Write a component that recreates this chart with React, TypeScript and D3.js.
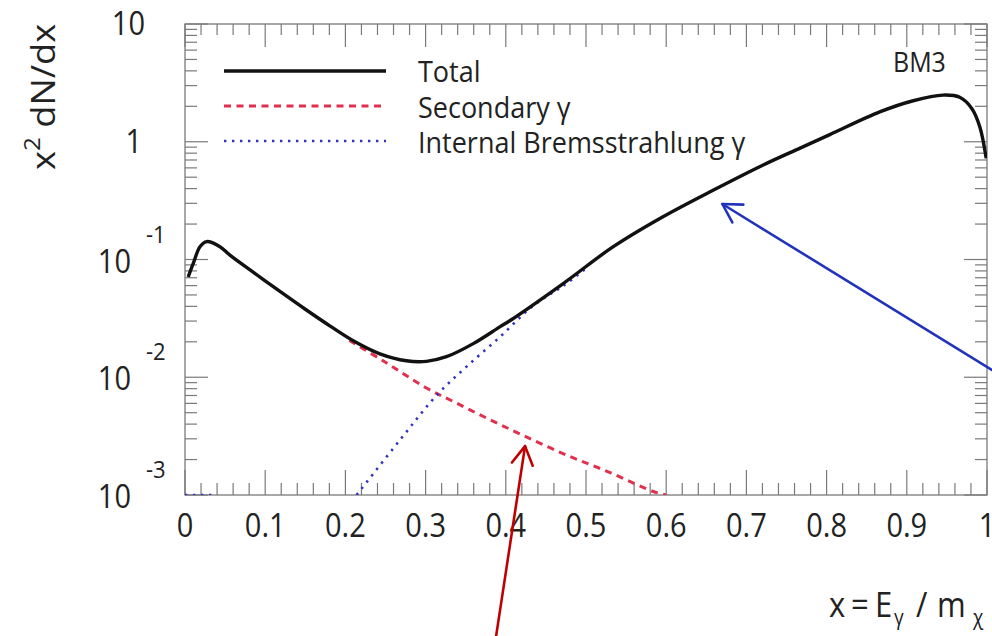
import React from "react";
import * as d3 from "d3";

// Photon spectrum x^2 dN/dx for benchmark model BM3
const totalX = [0.004, 0.0104, 0.0187, 0.027, 0.0436, 0.056, 0.087, 0.118, 0.15, 0.181, 0.212, 0.243, 0.276, 0.301, 0.326, 0.36, 0.393, 0.405, 0.472, 0.534, 0.596, 0.659, 0.721, 0.767, 0.804, 0.867, 0.908, 0.945, 0.966, 0.981, 0.991, 0.999];
const totalY = [0.071, 0.093, 0.1285, 0.142, 0.1285, 0.109, 0.0764, 0.0538, 0.0378, 0.0272, 0.0200, 0.0158, 0.0138, 0.01365, 0.01494, 0.0194, 0.0269, 0.0302, 0.0628, 0.1285, 0.2308, 0.389, 0.635, 0.883, 1.15, 1.8, 2.23, 2.49, 2.385, 1.92, 1.343, 0.723];

const secondaryX = [0.205, 0.247, 0.301, 0.335, 0.376, 0.422, 0.476, 0.53, 0.584, 0.6];
const secondaryY = [0.0205, 0.0138, 0.0081, 0.0062, 0.0045, 0.0032, 0.00218, 0.00155, 0.00107, 0.00095];

// Internal bremsstrahlung: below the axis minimum at low x, then a gap (null)
const ibX = [0, 0.04, 0.1, 0.214, 0.268, 0.314, 0.351, 0.393, 0.434, 0.472, 0.5];
const ibY: (number | null)[] = [0.0008, 0.0008, null, 0.00095, 0.00293, 0.00706, 0.0123, 0.0221, 0.0405, 0.06, 0.084];

const xTickValues = [0, 0.1, 0.2, 0.3, 0.4, 0.5, 0.6, 0.7, 0.8, 0.9, 1];
const xTickLabels = ["0", "0.1", "0.2", "0.3", "0.4", "0.5", "0.6", "0.7", "0.8", "0.9", "1"];
const yDecades = [1, 0, -1, -2, -3];

const legendLabels = ["Total", "Secondary \u03b3", "Internal Bremsstrahlung \u03b3"];

// Annotation arrows, tail and tip in data coordinates
const arrowTails = [[1.006, 0.01153], [0.388, 6.4e-5]];
const arrowTips = [[0.67, 0.296], [0.424, 0.0026]];
const arrowColors = ["#2233bb", "#c00000"];

const W = 992;
const H = 636;
const FONT = "'Open Sans', 'Noto Sans', sans-serif";
const AXIS = "#7a7a7a";

export default function App() {
  const x = d3.scaleLinear().domain([0, 1]).range([185, 987]);
  const y = d3.scaleLog().domain([1e-3, 10]).range([495, 24]);
  const [x0, x1] = x.range();
  const [yb, yt] = y.range();
  const yMin = 1e-3;

  const line = d3
    .line<[number, number | null]>()
    .defined((d) => d[1] !== null)
    .x((d) => x(d[0]))
    .y((d) => y(Math.max(d[1] as number, yMin)))
    .curve(d3.curveCatmullRom.alpha(0.5));

  const totalPath = line(totalX.map((v, i) => [v, totalY[i]]));
  const secPath = line(secondaryX.map((v, i) => [v, secondaryY[i]]));
  const ibPath = line(ibX.map((v, i) => [v, ibY[i]]));

  const xMinor = d3.range(0, 51).map((i) => i * 0.02).filter((v, i) => i % 5 !== 0);
  const yMinor: number[] = [];
  for (let dd = -3; dd <= 0; dd++) for (let k = 2; k <= 9; k++) yMinor.push(k * Math.pow(10, dd));

  const majLenX = 25, minLenX = 12, majLenY = 23, minLenY = 12;

  const stretch = "scale(1,1.1)";

  const arrows = arrowTails.map((t, i) => {
    const tp = arrowTips[i];
    const ax = x(t[0]), ay = y(t[1]);
    const bx = x(tp[0]), by = y(tp[1]);
    const ang = Math.atan2(by - ay, bx - ax);
    const L = 21, spread = (30 * Math.PI) / 180;
    const p1 = [bx - L * Math.cos(ang - spread), by - L * Math.sin(ang - spread)];
    const p2 = [bx - L * Math.cos(ang + spread), by - L * Math.sin(ang + spread)];
    return { ax, ay, bx, by, p1, p2, color: arrowColors[i] };
  });

  return (
    <svg
      width={W}
      height={H}
      viewBox={`0 0 ${W} ${H}`}
      style={{ position: "absolute", left: 0, top: 0, background: "#fff" }}
      fontFamily={FONT}
    >
      <defs>
        <clipPath id="plotArea">
          <rect x={x0} y={yt - 2} width={x1 - x0} height={yb - yt + 2} />
        </clipPath>
      </defs>
      <rect width={W} height={H} fill="#fff" />

      {/* frame */}
      <rect x={x0} y={yt} width={x1 - x0} height={yb - yt} fill="none" stroke={AXIS} strokeWidth={1.3} />

      {/* x ticks, bottom and top */}
      {xTickValues.map((v, i) => (
        <g key={"xM" + i} stroke={AXIS} strokeWidth={1.2}>
          <line x1={x(v)} x2={x(v)} y1={yb} y2={yb - majLenX} />
          <line x1={x(v)} x2={x(v)} y1={yt} y2={yt + majLenX - 2} />
        </g>
      ))}
      {xMinor.map((v, i) => (
        <g key={"xm" + i} stroke={AXIS} strokeWidth={1.2}>
          <line x1={x(v)} x2={x(v)} y1={yb} y2={yb - minLenX} />
          <line x1={x(v)} x2={x(v)} y1={yt} y2={yt + minLenX - 1} />
        </g>
      ))}

      {/* y ticks, left and right */}
      {yDecades.map((e) => (
        <g key={"yM" + e} stroke={AXIS} strokeWidth={1.2}>
          <line x1={x0} x2={x0 + majLenY} y1={y(Math.pow(10, e))} y2={y(Math.pow(10, e))} />
          <line x1={x1} x2={x1 - majLenY} y1={y(Math.pow(10, e))} y2={y(Math.pow(10, e))} />
        </g>
      ))}
      {yMinor.map((v, i) => (
        <g key={"ym" + i} stroke={AXIS} strokeWidth={1.2}>
          <line x1={x0} x2={x0 + minLenY} y1={y(v)} y2={y(v)} />
          <line x1={x1} x2={x1 - minLenY} y1={y(v)} y2={y(v)} />
        </g>
      ))}

      {/* x tick labels */}
      {xTickValues.map((v, i) => (
        <text
          key={"xl" + i}
          transform={`translate(${x(v)},537) ${stretch}`}
          textAnchor="middle"
          fontSize={29}
          fill="#222"
        >
          {xTickLabels[i]}
        </text>
      ))}

      {/* y tick labels */}
      {yDecades.map((e) => {
        const ty = y(Math.pow(10, e));
        if (e === 1)
          return (
            <text key="yl1" transform={`translate(145,${ty + 11}) ${stretch}`} textAnchor="end" fontSize={29} fill="#222">
              10
            </text>
          );
        if (e === 0)
          return (
            <text key="yl0" transform={`translate(142,${ty + 11}) ${stretch}`} textAnchor="end" fontSize={29} fill="#222">
              1
            </text>
          );
        return (
          <g key={"yl" + e} fill="#222">
            <text transform={`translate(131,${ty + 13}) ${stretch}`} textAnchor="end" fontSize={29}>
              10
            </text>
            <text transform={`translate(146,${ty - 17}) ${stretch}`} textAnchor="start" fontSize={22}>
              {String(e)}
            </text>
          </g>
        );
      })}

      {/* curves */}
      <g clipPath="url(#plotArea)" fill="none">
        <path d={secPath ?? ""} stroke="#e0304e" strokeWidth={3} strokeDasharray="7 5.5" />
        <path d={ibPath ?? ""} stroke="#3333c4" strokeWidth={2.6} strokeDasharray="2.4 5.6" />
        <path d={totalPath ?? ""} stroke="#111" strokeWidth={3.4} strokeLinejoin="round" />
      </g>

      {/* legend */}
      <g>
        <line x1={224} x2={386} y1={71} y2={71} stroke="#111" strokeWidth={3.4} />
        <line x1={224} x2={386} y1={106} y2={106} stroke="#e0304e" strokeWidth={3} strokeDasharray="7 5.5" />
        <line x1={224} x2={386} y1={141} y2={141} stroke="#3333c4" strokeWidth={2.6} strokeDasharray="2.4 5.6" />
        {legendLabels.map((t, i) => (
          <text key={t} transform={`translate(418,${82 + i * 35.5}) scale(1,1.05)`} fontSize={27} fill="#222">
            {t}
          </text>
        ))}
      </g>

      <text transform={`translate(893,72) ${stretch}`} fontSize={25} fill="#222">
        BM3
      </text>

      {/* y axis title */}
      <text transform="translate(55,170) rotate(-90) scale(1.1,1)" fontSize={33} fill="#222">
        x
        <tspan fontSize={22} dy={-15}>2</tspan>
        <tspan dy={15}> dN/dx</tspan>
      </text>

      {/* x axis title */}
      <g transform={`translate(0,617)`} fill="#222">
        <text transform={stretch} fontSize={31}>
          <tspan x={829}>x</tspan>
          <tspan x={851}>=</tspan>
          <tspan x={875}>E</tspan>
          <tspan x={894} dy={7} fontSize={19}>{"\u03b3"}</tspan>
          <tspan x={916} dy={-7}>/</tspan>
          <tspan x={937}>m</tspan>
          <tspan x={973} dy={7} fontSize={19}>{"\u03c7"}</tspan>
        </text>
      </g>

      {/* annotation arrows */}
      {arrows.map((a, i) => (
        <g key={"arr" + i} stroke={a.color} strokeWidth={2.6} fill="none" strokeLinecap="round" strokeLinejoin="round">
          <line x1={a.ax} y1={a.ay} x2={a.bx} y2={a.by} />
          <polyline points={`${a.p1[0]},${a.p1[1]} ${a.bx},${a.by} ${a.p2[0]},${a.p2[1]}`} />
        </g>
      ))}
    </svg>
  );
}
